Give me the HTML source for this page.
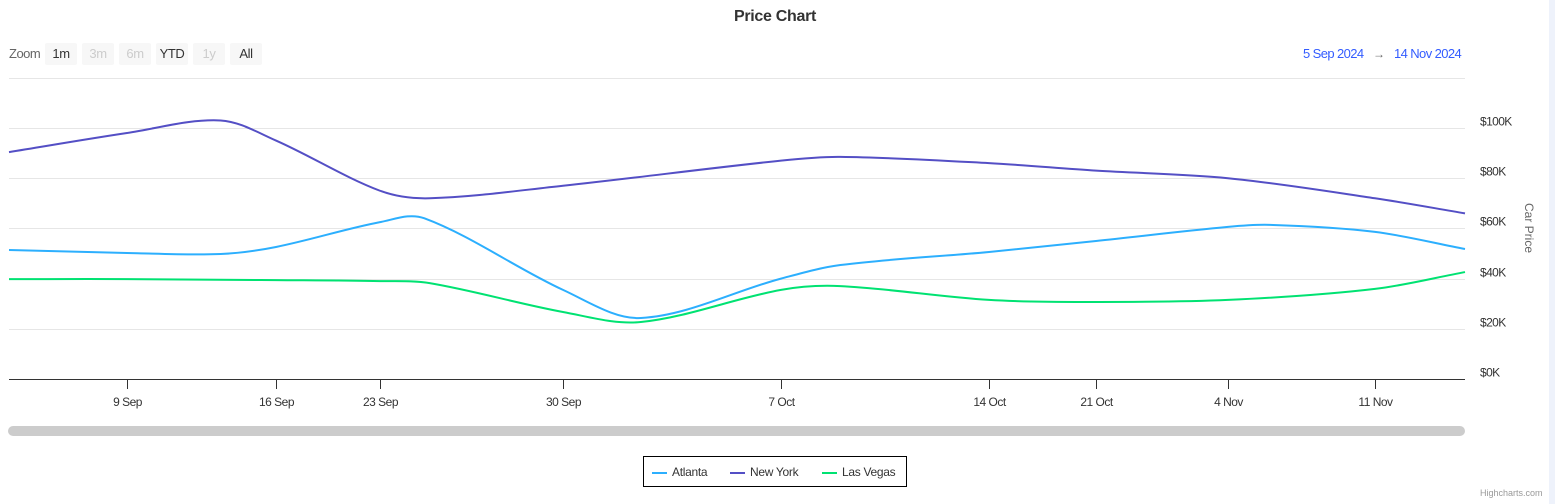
<!DOCTYPE html>
<html><head><meta charset="utf-8"><style>
body{margin:0;background:#fff;font-family:"Liberation Sans",sans-serif;}
#wrap{position:relative;width:1555px;height:504px;overflow:hidden;background:#fff;}
.btn{position:absolute;top:43px;height:22px;border-radius:2px;background:#f7f7f7;font-size:13px;line-height:22px;text-align:center;color:#333;letter-spacing:-0.4px}
.dis{color:#ccc;}
</style></head><body>
<div id="wrap">
<div style="position:absolute;left:1549px;top:0;width:6px;height:504px;background:#eef2fb"></div>
<div style="position:absolute;left:0;top:8px;width:1550px;text-align:center;font-size:16px;font-weight:bold;color:#333;letter-spacing:-0.3px">Price Chart</div>
<div style="position:absolute;left:9px;top:46px;font-size:13px;color:#666;letter-spacing:-0.5px">Zoom</div>
<div class="btn" style="left:45px;width:32px">1m</div>
<div class="btn dis" style="left:82px;width:32px">3m</div>
<div class="btn dis" style="left:119px;width:32px">6m</div>
<div class="btn" style="left:156px;width:32px">YTD</div>
<div class="btn dis" style="left:193px;width:32px">1y</div>
<div class="btn" style="left:230px;width:32px">All</div>
<div style="position:absolute;left:1303px;top:46px;font-size:13px;color:#335cff;letter-spacing:-0.6px">5 Sep 2024</div>
<div style="position:absolute;left:1373px;top:47px;font-size:12px;color:#666">→</div>
<div style="position:absolute;left:1394px;top:46px;font-size:13px;color:#335cff;letter-spacing:-0.6px">14 Nov 2024</div>
<svg id="svg" width="1555" height="504" style="position:absolute;left:0;top:0"></svg>
<div style="position:absolute;left:8px;top:426px;width:1457px;height:10px;border-radius:5px;background:#ccc"></div>
<div style="position:absolute;left:643px;top:456px;width:262px;height:29px;border:1px solid #000;font-size:12px;color:#333;letter-spacing:-0.3px">
 <div style="position:absolute;left:8px;top:8px"><span style="display:inline-block;width:15px;height:2px;background:#2caffe;vertical-align:middle;margin-right:5px"></span>Atlanta</div>
 <div style="position:absolute;left:86px;top:8px"><span style="display:inline-block;width:15px;height:2px;background:#544fc5;vertical-align:middle;margin-right:5px"></span>New York</div>
 <div style="position:absolute;left:178px;top:8px"><span style="display:inline-block;width:15px;height:2px;background:#00e272;vertical-align:middle;margin-right:5px"></span>Las Vegas</div>
</div>
<div style="position:absolute;left:1480px;top:488px;font-size:9px;color:#999">Highcharts.com</div>
</div>
<script>
const yTicks=[0,20,40,60,80,100];
const tickDays=[4,11,18,25,32,39,46,60,67];
const tickLabels=["9 Sep","16 Sep","23 Sep","30 Sep","7 Oct","14 Oct","21 Oct","4 Nov","11 Nov"];
// ordinal axis anchors (day -> px)
const axisDays=[0,4,11,18,25,32,39,46,60,67,70];
const axisPx=[9,127,276,380,563,781,989,1096,1228,1375,1465];
const nyDays=[0,4,8.4,11,18,19.9,25,32,34,39,46,60,67,70];
const nyVals=[90.4,98,103,95,75,72,77,87,88.5,86,83,80,72,66];
const atlDays=[0,4,8.4,11,18,19.7,25,27.5,32,34,39,46,60,62,67,70];
const atlVals=[51.4,50.2,49.8,52.6,62.5,64,35.5,24.3,40,45.4,50.6,55,60.6,61.4,58.6,51.8];
const lvDays=[0,4,11,18,19.9,25,27.5,32,34,39,46,60,67,70];
const lvVals=[39.8,39.8,39.4,39,38.2,26.7,22.7,35.5,37,31.5,30.7,31.5,35.9,42.6];
function xs(d){for(let i=0;i<axisDays.length-1;i++){if(d<=axisDays[i+1]){return axisPx[i]+(d-axisDays[i])/(axisDays[i+1]-axisDays[i])*(axisPx[i+1]-axisPx[i]);}}return axisPx[axisPx.length-1];}
function ys(v){return 379-v*2.51;}
const svg=document.getElementById('svg');const NS='http://www.w3.org/2000/svg';
function mk(t,a){const e=document.createElementNS(NS,t);for(const k in a)e.setAttribute(k,a[k]);svg.appendChild(e);return e;}
let g=mk('line',{x1:9,x2:1465,y1:78.5,y2:78.5,stroke:'#e6e6e6'});


yTicks.forEach(v=>{
 const y=Math.round(ys(v))+0.5;
 if(v>0){const l=mk('line',{x1:9,x2:1465,y1:y,y2:y,stroke:'#e6e6e6'});
 
 }
 const t=mk('text',{x:1480,y:y-3,'font-size':12,fill:'#333','letter-spacing':'-0.6'});t.textContent='$'+v+'K';
 
 
});
const ax=mk('line',{x1:9,x2:1465,y1:379.5,y2:379.5,stroke:'#333'});


tickDays.forEach((d,i)=>{const x=Math.round(xs(d))+0.5;
 const l=mk('line',{x1:x,x2:x,y1:380,y2:389,stroke:'#333'});
 
 
 const t=mk('text',{x:x,y:406,'font-size':12,fill:'#333','text-anchor':'middle','letter-spacing':'-0.5'});t.textContent=tickLabels[i];
 
 
});
const yt=mk('text',{x:0,y:0,'font-size':12,fill:'#666','text-anchor':'middle',transform:'translate(1525,228) rotate(90)'});yt.textContent='Car Price';


function path(days,vals){const p=days.map((d,i)=>[xs(d),ys(vals[i])]);const n=p.length;
 const m=p.map((q,i)=>{const a=p[Math.max(0,i-1)],b=p[Math.min(n-1,i+1)];return (b[1]-a[1])/(b[0]-a[0]);});
 let s='M'+p[0][0]+','+p[0][1];
 for(let i=0;i<n-1;i++){const dx=(p[i+1][0]-p[i][0])/3;
 s+=' C'+(p[i][0]+dx)+','+(p[i][1]+m[i]*dx)+' '+(p[i+1][0]-dx)+','+(p[i+1][1]-m[i+1]*dx)+' '+p[i+1][0]+','+p[i+1][1];}return s;}
[[lvDays,lvVals,'#00e272','series-las-vegas'],[atlDays,atlVals,'#2caffe','series-atlanta'],[nyDays,nyVals,'#544fc5','series-new-york']].forEach(s=>{
 const e=mk('path',{d:path(s[0],s[1]),fill:'none',stroke:s[2],'stroke-width':2});
 
 
});
</script>
</body></html>
